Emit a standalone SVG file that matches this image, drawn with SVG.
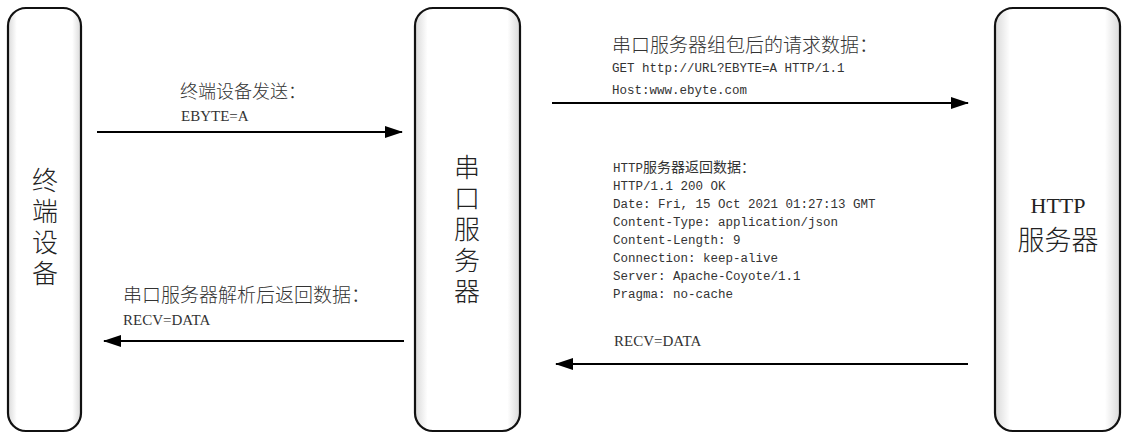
<svg xmlns="http://www.w3.org/2000/svg" width="1123" height="435" viewBox="0 0 1123 435">
<defs>
<linearGradient id="shadeH" x1="0" y1="0" x2="1" y2="0">
<stop offset="0" stop-color="#d9d9d9"/>
<stop offset="0.12" stop-color="#ffffff"/>
<stop offset="0.88" stop-color="#ffffff"/>
<stop offset="1" stop-color="#d9d9d9"/>
</linearGradient>
<marker id="arr" viewBox="0 0 18 12" refX="17" refY="6" markerWidth="18" markerHeight="12" markerUnits="userSpaceOnUse" orient="auto">
<path d="M0,0 L18,6 L0,12 Z" fill="#000"/>
</marker>
<style>
.box{fill:url(#shadeH);stroke:#111;stroke-width:2.2}
.lbl{font-family:"Noto Sans CJK SC",sans-serif;font-size:26px;font-weight:300;fill:#222;text-anchor:middle}
.vert{writing-mode:vertical-rl;letter-spacing:5px}
.cap{font-family:"Noto Sans CJK SC",sans-serif;font-weight:300;fill:#333}
.ser{font-family:"Liberation Serif",serif;font-size:15px;fill:#333}
.mono{font-family:"Liberation Mono","Noto Sans CJK SC",monospace;font-size:12.5px;fill:#333}
.cjk{font-family:"Noto Sans CJK SC",sans-serif;font-size:14px}
.conn{stroke:#000;stroke-width:2;fill:none;marker-end:url(#arr)}
</style>
</defs>
<rect width="1123" height="435" fill="#fff"/>
<g id="terminal">
<rect class="box" x="8" y="8" width="73" height="423" rx="18"/>
<text class="lbl vert" x="45" y="229">终端设备</text>
</g>
<g id="serial-server">
<rect class="box" x="415" y="8" width="105" height="423" rx="18"/>
<text class="lbl vert" x="467" y="232">串口服务器</text>
</g>
<g id="http-server">
<rect class="box" x="995" y="8" width="125" height="423" rx="18"/>
<text x="1058" y="213" text-anchor="middle" style="font-family:'Liberation Serif',serif;font-size:22px;fill:#222">HTTP</text>
<text class="lbl" x="1058" y="250" style="font-size:27px">服务器</text>
</g>
<g id="connectors">
<line class="conn" x1="97" y1="132" x2="402" y2="132"/>
<line class="conn" x1="404" y1="341" x2="104" y2="341"/>
<line class="conn" x1="552" y1="103" x2="968" y2="103"/>
<line class="conn" x1="968" y1="364" x2="556" y2="364"/>
</g>
<g id="labels">
<text class="cap" x="180" y="98" style="font-size:18px">终端设备发送：</text>
<text class="ser" x="181" y="121">EBYTE=A</text>
<text class="cap" x="123" y="302" style="font-size:19px">串口服务器解析后返回数据：</text>
<text class="ser" x="123" y="325">RECV=DATA</text>
<text class="cap" x="612" y="52" style="font-size:19px">串口服务器组包后的请求数据：</text>
<text class="mono" x="612" y="72">GET http://URL?EBYTE=A HTTP/1.1</text>
<text class="mono" x="612" y="94">Host:www.ebyte.com</text>
<text class="mono" x="613" y="172">HTTP<tspan class="cjk">服务器返回数据：</tspan></text>
<text class="mono" x="613" y="190">HTTP/1.1 200 OK</text>
<text class="mono" x="613" y="208">Date: Fri, 15 Oct 2021 01:27:13 GMT</text>
<text class="mono" x="613" y="226">Content-Type: application/json</text>
<text class="mono" x="613" y="244">Content-Length: 9</text>
<text class="mono" x="613" y="262">Connection: keep-alive</text>
<text class="mono" x="613" y="280">Server: Apache-Coyote/1.1</text>
<text class="mono" x="613" y="298">Pragma: no-cache</text>
<text class="ser" x="614" y="346">RECV=DATA</text>
</g>
</svg>
